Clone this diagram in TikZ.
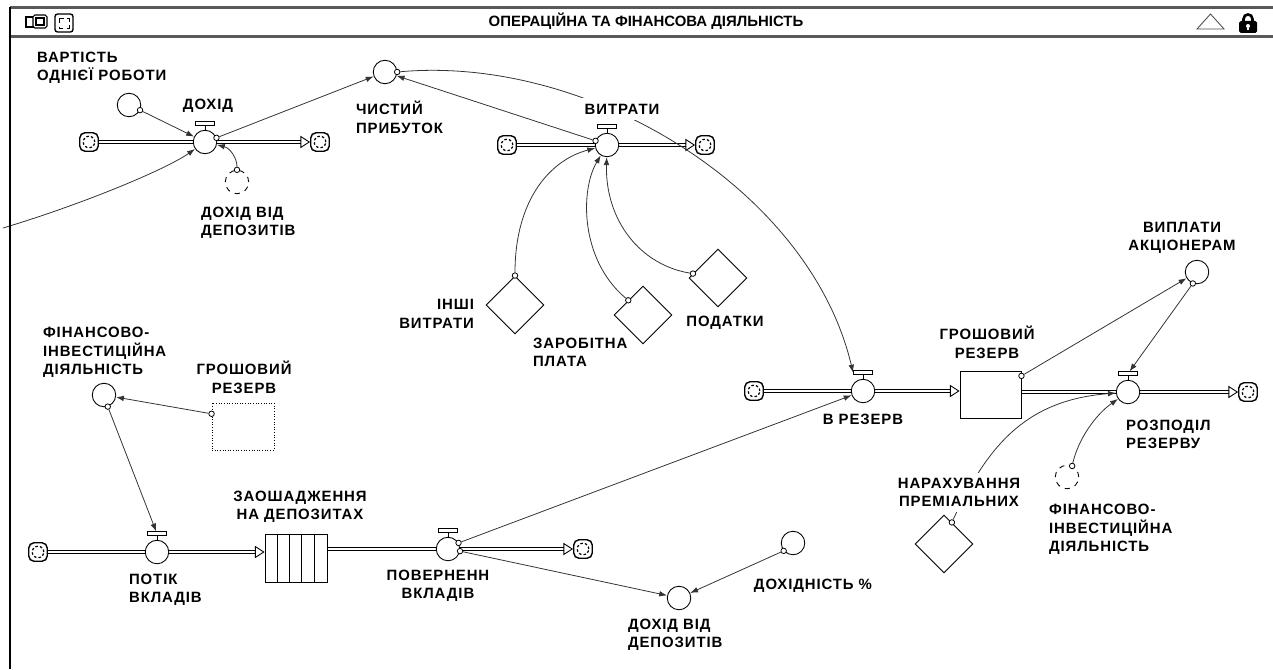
\documentclass[tikz,border=0pt]{standalone}
\usepackage{fontspec}
\setmainfont{Liberation Sans}
\newfontfamily\spacedsans[LetterSpace=6]{Liberation Sans}
\usetikzlibrary{positioning,arrows.meta,shapes.geometric,backgrounds}
\newcommand{\lblfont}{\spacedsans\bfseries\fontsize{8.5}{10.5}\selectfont}
\newcommand{\titlefont}{\bfseries\fontsize{8.5}{10.5}\selectfont}

\begin{document}
\begin{tikzpicture}[x=0.02cm,y=-0.02cm]
\tikzstyle{valve}=[circle,draw,fill=white,line width=0.5pt,minimum size=0.47cm,inner sep=0pt]
\tikzstyle{aux}=[circle,draw,fill=white,line width=0.5pt,minimum size=0.47cm,inner sep=0pt]
\tikzstyle{ghost}=[circle,draw,dashed,fill=white,line width=0.5pt,minimum size=0.47cm,inner sep=0pt]
\tikzstyle{param}=[diamond,draw,fill=white,line width=0.5pt,minimum size=1.16cm,inner sep=0pt]
\tikzstyle{stock}=[rectangle,draw,fill=white,line width=0.5pt,minimum width=1.22cm,minimum height=0.94cm,inner sep=0pt]
\tikzstyle{ghoststock}=[rectangle,draw,densely dotted,line width=0.5pt,minimum width=1.24cm,minimum height=0.94cm,inner sep=0pt]
\tikzstyle{cloudbox}=[rectangle,draw,fill=white,line width=0.8pt,rounded corners=3pt,minimum size=0.37cm,inner sep=0pt,
  path picture={\draw[dash pattern=on 1.4pt off 1.2pt,line width=0.7pt] (path picture bounding box.center) circle (0.115cm);}]
\tikzstyle{tap}=[circle,draw,fill=white,line width=0.45pt,minimum size=0.11cm,inner sep=0pt]
\tikzstyle{valvebar}=[rectangle,draw,fill=white,line width=0.5pt,minimum width=0.38cm,minimum height=0.07cm,inner sep=0pt]
\tikzstyle{lbl}=[font=\lblfont,align=center,inner sep=1pt]
\tikzstyle{pipe}=[double,double distance=1.6pt,line width=0.5pt,-{Triangle[open,length=5.5pt,width=7pt]}]
\tikzstyle{link}=[draw=black!80,line width=0.45pt,-{Latex[length=4.5pt,width=3.2pt]}]
\useasboundingbox (0,0) rectangle (1273,669);

% window frame
\draw[black!65,line width=1.2pt] (10,7.5) -- (1273,7.5);
\draw[black!65,line width=1.2pt] (10,36.5) -- (1273,36.5);
\draw[line width=0.8pt] (10,7) -- (10,669);
\node[font=\titlefont] (title) at (646,21) {ОПЕРАЦІЙНА ТА ФІНАНСОВА ДІЯЛЬНІСТЬ};
\draw[line width=0.6pt] (26,17) rectangle (37,27);
\draw[line width=0.6pt,fill=white,rounded corners=1pt] (33,15) rectangle (47,28);
\draw[line width=0.6pt] (36,18) rectangle (44,25);
\draw[line width=0.8pt,rounded corners=1.5pt] (55,14) rectangle (73,32);
\draw[densely dashed,line width=0.5pt] (59,18) rectangle (69,28);
\draw[black!70,line width=0.5pt] (1197,29) -- (1210.5,14) -- (1224,29) -- cycle;
\draw[line width=1.5pt] (1243.5,23) -- (1243.5,19) .. controls (1243.5,13) and (1252.5,13) .. (1252.5,19) -- (1252.5,23);
\fill[rounded corners=1pt] (1239,21) rectangle (1257,33);
\fill[white] (1248,26) circle (0.04cm);
\fill[white] (1247.3,26) rectangle (1248.7,30.5);

% income
\node[cloudbox] (c1) at (89,142) {};
\node[valve] (vdoh) at (205,142) {};
\node[cloudbox] (c2) at (320,142) {};
\node[aux] (vart) at (129,105) {};
\node[ghost] (ddep1) at (237,182) {};
\node[aux] (chyst) at (385,72) {};
\coordinate (edge) at (3,228);
\node[lbl,anchor=west,align=left] at (35,67.5) {ВАРТІСТЬ\\ОДНІЄЇ РОБОТИ};
\node[lbl] at (208,106) {ДОХІД};
\node[lbl,anchor=west,align=left] at (199,222.5) {ДОХІД ВІД\\ДЕПОЗИТІВ};
\node[lbl,anchor=west,align=left] at (354,117.5) {ЧИСТИЙ\\ПРИБУТОК};

% costs
\node[cloudbox] (c3) at (507,145) {};
\node[valve] (vvyt) at (607,145) {};
\node[cloudbox] (c4) at (705,145) {};
\node[param] (inshi) at (515,305) {};
\node[param] (zarob) at (643,315) {};
\node[param] (podat) at (718,278) {};
\node[lbl,fill=white,inner sep=3.5pt] at (622,109) {ВИТРАТИ};
\node[lbl,anchor=east,align=right] at (476,314) {ІНШІ\\ВИТРАТИ};
\node[lbl,anchor=west,align=left] at (531,352.5) {ЗАРОБІТНА\\ПЛАТА};
\node[lbl] at (725,322.5) {ПОДАТКИ};

% reserve
\node[cloudbox] (c5) at (754,391) {};
\node[valve] (vrez) at (863,391) {};
\node[stock] (grez) at (990.5,394.5) {};
\node[valve] (vroz) at (1128,392) {};
\node[cloudbox] (c6) at (1248,392) {};
\node[aux] (vypl) at (1197,272) {};
\node[param] (nar) at (944,544) {};
\node[ghost] (fin2) at (1067,477) {};
\node[lbl] at (987,342.5) {ГРОШОВИЙ\\РЕЗЕРВ};
\node[lbl] at (863,419.5) {В РЕЗЕРВ};
\node[lbl,anchor=west,align=left] at (1124,434.5) {РОЗПОДІЛ\\РЕЗЕРВУ};
\node[lbl] at (1182,238) {ВИПЛАТИ\\АКЦІОНЕРАМ};
\node[lbl,fill=white,inner sep=3pt] at (959,492.5) {НАРАХУВАННЯ\\ПРЕМІАЛЬНИХ};
\node[lbl,anchor=west,align=left] at (1047,529.5) {ФІНАНСОВО-\\ІНВЕСТИЦІЙНА\\ДІЯЛЬНІСТЬ};

% deposits
\node[aux] (fin1) at (104,395) {};
\node[ghoststock] (grez2) at (243,426.5) {};
\node[cloudbox] (c7) at (38,552) {};
\node[valve] (vpot) at (157,552) {};
\node[stock,minimum width=1.24cm,minimum height=0.96cm] (conv) at (296,558) {};
\foreach \i in {1,...,4}
  \draw[line width=0.5pt] ([xshift=\i*0.248cm]conv.north west) -- ([xshift=\i*0.248cm]conv.south west);
\node[valve] (vpov) at (448,549) {};
\node[cloudbox] (c8) at (583,549) {};
\node[aux] (ddep2) at (679,598) {};
\node[aux] (dohpct) at (793,543) {};
\node[lbl,anchor=west,align=left] at (41,352.5) {ФІНАНСОВО-\\ІНВЕСТИЦІЙНА\\ДІЯЛЬНІСТЬ};
\node[lbl] at (244,377.5) {ГРОШОВИЙ\\РЕЗЕРВ};
\node[lbl] at (300,507) {ЗАОШАДЖЕННЯ\\НА ДЕПОЗИТАХ};
\node[lbl,anchor=west,align=left] at (127,590) {ПОТІК\\ВКЛАДІВ};
\node[lbl] at (438,586) {ПОВЕРНЕНН\\ВКЛАДІВ};
\node[lbl] at (813,586) {ДОХІДНІСТЬ \%};
\node[lbl,anchor=west,align=left] at (626,635) {ДОХІД ВІД\\ДЕПОЗИТІВ};

% valve handles
\foreach \v in {vdoh,vvyt,vrez,vroz,vpot,vpov}
  \draw[line width=0.5pt] (\v.north) -- ++(0,-4) node[valvebar,anchor=south] (\v-h) {};

% taps
\node[tap] (t-vart) at (vart.-25) {};
\node[tap] (t-vdoh) at (vdoh.20) {};
\node[tap] (t-ddep1) at (ddep1.north) {};
\node[tap] (t-chyst) at (chyst.east) {};
\node[tap] (t-vvyt) at (vvyt.160) {};
\node[tap] (t-inshi) at (inshi.north) {};
\node[tap] (t-zarob) at (zarob.north west) {};
\node[tap] (t-podat) at (podat.170) {};
\node[tap] (t-grez) at (grez.31) {};
\node[tap] (t-vypl) at (vypl.-110) {};
\node[tap] (t-nar) at (nar.70) {};
\node[tap] (t-fin2) at (fin2.65) {};
\node[tap] (t-fin1) at (fin1.-72) {};
\node[tap] (t-grez2) at (grez2.158) {};
\node[tap] (t-vpov1) at (vpov.30) {};
\node[tap] (t-vpov2) at (vpov.-10) {};
\node[tap] (t-dohpct) at (dohpct.-140) {};

\begin{scope}[on background layer]
% pipes
\draw[pipe] (c1) -- (c2);
\draw[pipe] (c3) -- (c4);
\draw[pipe] (c5) -- (c5 -| grez.west);
\draw[pipe] (grez.east |- vroz) -- (c6);
\draw[pipe] (c7) -- (c7 -| conv.west);
\draw[pipe] (conv.east |- vpov) -- (c8);
% links
\draw[link] (t-vart) -- (vdoh);
\draw[link] (t-ddep1) .. controls (237,158) and (230,148) .. (vdoh);
\draw[link] (edge) .. controls (80,205) and (165,170) .. (vdoh);
\draw[link] (t-vdoh) -- (chyst);
\draw[link] (t-vvyt) -- (chyst);
\draw[link] (t-chyst) .. controls (590,55) and (810,190) .. (vrez-h.west);
\draw[link] (t-inshi) .. controls (515,200) and (550,160) .. (vvyt);
\draw[link] (t-zarob) .. controls (580,260) and (580,190) .. (vvyt);
\draw[link] (t-podat) .. controls (640,265) and (605,220) .. (vvyt);
\draw[link] (t-grez) -- (vypl);
\draw[link] (t-vypl) -- (vroz-h);
\draw[link] (t-nar) .. controls (990,440) and (1030,400) .. (vroz);
\draw[link] (t-fin2) .. controls (1078,440) and (1095,415) .. (vroz);
\draw[link] (t-grez2) -- (fin1);
\draw[link] (t-fin1) -- (vpot-h);
\draw[link] (t-vpov1) -- (vrez);
\draw[link] (t-vpov2) -- (ddep2);
\draw[link] (t-dohpct) -- (ddep2);
\end{scope}
\end{tikzpicture}
\end{document}
